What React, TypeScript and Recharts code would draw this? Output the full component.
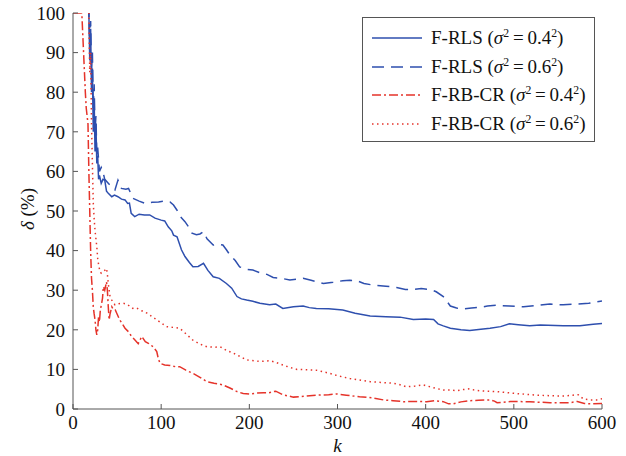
import React from 'react';
import { LineChart, Line, XAxis, YAxis, Legend } from 'recharts';

type P = [number, number];

const FONT = "'Liberation Serif', 'DejaVu Serif', serif";
const BLUE = '#2e4fae';
const RED = '#e5332a';
const AXIS = '#555555';

const xTicks = [0, 100, 200, 300, 400, 500, 600];
const yTicks = [0, 10, 20, 30, 40, 50, 60, 70, 80, 90, 100];

// F-RLS (sigma^2 = 0.4^2)
const rls04: P[] = [
  [0, 130], [16, 120], [18, 100], [19, 88], [20, 96], [21, 80], [22, 86], [23, 70], [24, 78], [25, 65],
  [26, 72], [27, 62], [28, 64], [29, 58], [30, 59], [32, 57], [34, 58], [36, 57.8], [38, 55], [40, 54.5],
  [44, 53.6], [47, 54], [51, 53.6], [55, 53], [59, 52.8], [62, 51.9], [64, 52], [66, 49.4], [70, 48.6], [75, 49.2],
  [81, 49], [87, 49], [93, 48.2], [100, 47.7], [104, 47.5], [108, 46], [112, 45], [114, 43.9], [118, 43.5], [123, 40.2],
  [127, 38.5], [132, 37], [136, 35.9], [142, 36], [148, 36.8], [153, 35], [159, 33.4], [166, 33], [174, 31.7], [180, 30.5],
  [186, 28.4], [191, 27.8], [197, 27.5], [204, 27.2], [212, 26.7], [223, 26.3], [230, 26.5], [238, 25.4], [250, 25.8], [261, 26],
  [268, 25.6], [276, 25.4], [290, 25.3], [306, 25], [320, 24.2], [337, 23.5], [355, 23.3], [371, 23.2], [386, 22.6], [400, 22.7],
  [409, 22.6], [414, 21.5], [420, 21], [428, 20.4], [440, 20], [450, 19.8], [460, 20.1], [473, 20.4], [485, 20.8], [495, 21.5],
  [505, 21.3], [518, 21], [530, 21.2], [556, 21], [575, 21], [590, 21.4], [600, 21.6],
];

// F-RLS (sigma^2 = 0.6^2)
const rls06: P[] = [
  [0, 140], [16, 125], [18, 100], [19, 92], [20, 98], [21, 85], [22, 90], [23, 76], [24, 82], [25, 70],
  [26, 74], [27, 64], [28, 66], [30, 60], [32, 61], [34, 59.9], [36, 58], [40, 57], [44, 56], [47.6, 55.3],
  [51, 57.8], [55, 55.7], [60, 55.5], [63, 55.7], [68, 53.2], [75, 52.5], [82, 51.9], [90, 52.2], [97, 52.3], [104, 52.5],
  [110, 52.3], [114, 51.5], [118, 50.2], [122, 48.5], [127, 47.3], [131, 46], [135, 44.4], [140, 44], [144, 44.2], [148, 44.8],
  [152, 43], [159, 41.4], [165, 41.6], [170, 41.4], [174, 40.2], [178, 38.9], [184, 37.5], [189, 35.9], [196, 35.3], [204, 35.1],
  [212, 34.4], [220, 34], [227, 33.2], [236, 33], [246, 32.6], [255, 32.8], [261, 33], [270, 32.5], [284, 31.7], [295, 32],
  [306, 32.4], [314, 32.5], [322, 32.4], [330, 31.7], [340, 31.3], [355, 31], [367, 30.7], [377, 30.2], [386, 30.2], [395, 30.4],
  [405, 30.2], [412, 29.6], [420, 28.4], [424, 27.2], [428, 26], [435, 25.5], [443, 25.3], [452, 25.5], [462, 25.7], [470, 26],
  [480, 26.2], [495, 26], [511, 25.8], [525, 26.1], [541, 26.5], [556, 26.3], [571, 26.5], [585, 26.7], [600, 27.3],
];

// F-RB-CR (sigma^2 = 0.4^2)
const rbcr04: P[] = [
  [0, 100], [10, 100], [11, 95], [12, 90], [13, 85], [14, 80], [15, 76], [16, 74], [17, 72], [18, 60],
  [19, 50], [20, 40], [21, 33], [22, 30], [23, 25.8], [24, 24], [25, 22.5], [26, 20], [27, 18.7], [28, 20],
  [29, 23.3], [30, 22], [31, 25], [32.5, 26.7], [33.5, 28], [34.4, 30.9], [36, 30], [38, 32.1], [39, 30], [40, 25.8],
  [41, 22.5], [42, 24], [44, 25.8], [46, 25], [48, 25], [50, 24], [53, 22.5], [56, 21.5], [59, 20.4], [63, 19.5],
  [66.5, 18.3], [70, 17.5], [74, 16.5], [78, 18.3], [82, 17], [86, 16.5], [91, 15.7], [95, 14.5], [97, 12.5], [99, 11.5],
  [104, 11.1], [110, 11], [116, 10.7], [121, 10.7], [128, 9.8], [136, 9], [144, 8], [152, 6.9], [160, 6.5], [170, 6.1],
  [178, 5.3], [186, 4.4], [193, 3.9], [200, 3.8], [208, 4], [216, 4.1], [222, 4.1], [230, 4.5], [238, 3.6], [250, 3],
  [262, 3.2], [276, 3.5], [290, 3.6], [299, 3.8], [310, 3.5], [325, 3.1], [340, 2.8], [352, 2.3], [363, 2.1], [375, 1.85],
  [390, 1.9], [401, 1.85], [410, 2.1], [420, 1.85], [426, 1.3], [431, 1.3], [440, 1.8], [450, 2.1], [460, 2.2], [473, 2.3],
  [478, 2], [481, 1.6], [488, 1.7], [496, 1.9], [505, 1.9], [518, 1.8], [530, 1.7], [541, 1.6], [555, 1.6], [564, 1.6],
  [572, 1.9], [580, 1.4], [590, 1.3], [600, 1.4],
];

// F-RB-CR (sigma^2 = 0.6^2)
const rbcr06: P[] = [
  [0, 130], [16, 115], [18, 100], [19, 85], [20, 90], [21, 72], [22, 62], [23, 52], [24, 48], [25, 45],
  [26, 43], [27, 41], [28, 38], [29, 36.5], [30.6, 34.7], [32, 34.3], [34.4, 34.7], [36, 35], [38, 35.5], [39, 34],
  [40, 31.7], [42, 28.4], [44, 27.5], [47.6, 26.3], [52, 26.6], [57, 26.7], [61, 26.5], [68, 25.4], [72, 25.5], [78, 24.8],
  [84, 24.2], [90, 23.3], [95, 22.5], [101, 21.6], [106, 20.8], [114, 20.6], [121, 20.4], [128, 19], [136, 17.4], [144, 16.4],
  [152, 15.7], [160, 15.6], [167, 15.7], [174, 14.8], [182, 14.1], [190, 13.2], [197, 12.4], [205, 12.2], [212, 12], [223, 12.2],
  [230, 11.8], [238, 11.1], [246, 10.5], [254, 10], [265, 9.9], [276, 9.8], [284, 9.4], [291, 9], [302, 8.3], [314, 7.7],
  [325, 7.3], [337, 6.9], [350, 6.7], [363, 6.5], [370, 6.2], [378, 5.6], [388, 5.8], [397, 6.1], [405, 5.6], [412, 5.2],
  [420, 4.8], [428, 4.8], [435, 4.6], [442, 4.9], [450, 5.1], [455, 4.8], [462, 4.6], [470, 4.5], [480, 4.4], [490, 4.2],
  [503, 3.9], [515, 3.7], [526, 3.5], [537, 3.4], [549, 3.3], [558, 3.3], [567, 3.5], [573, 3.6], [579, 2.5], [587, 2.3],
  [594, 2.3], [600, 2.6],
];

const methodNames = ['F-RLS', 'F-RLS', 'F-RB-CR', 'F-RB-CR'];
const sigmaValues = ['0.4', '0.6', '0.4', '0.6'];

const toRows = (pts: P[]) => pts.map(([k, d]) => ({ k, d }));

const SERIES = [
  { key: 'rls04', data: toRows(rls04), color: BLUE, dash: undefined as string | undefined },
  { key: 'rls06', data: toRows(rls06), color: BLUE, dash: '12 7' },
  { key: 'rbcr04', data: toRows(rbcr04), color: RED, dash: '9 3 2 3' },
  { key: 'rbcr06', data: toRows(rbcr06), color: RED, dash: '1.5 3.5' },
];

const supStyle: React.CSSProperties = { fontSize: '0.62em', verticalAlign: 'super', lineHeight: 0 };

const LegendBox = () => (
  <div
    style={{
      width: 233,
      height: 125,
      boxSizing: 'border-box',
      border: `1px solid ${AXIS}`,
      background: '#fff',
      fontFamily: FONT,
      fontSize: 19,
      color: '#111',
      position: 'relative',
    }}
  >
    {SERIES.map((s, i) => (
      <div
        key={s.key}
        style={{ position: 'absolute', left: 0, top: 6 + i * 28.5, height: 28, display: 'flex', alignItems: 'center' }}
      >
        <svg width={68} height={28} style={{ display: 'block' }}>
          <line x1={9} x2={59} y1={14} y2={14} stroke={s.color} strokeWidth={1.6} strokeDasharray={s.dash} />
        </svg>
        <span style={{ whiteSpace: 'nowrap', fontFamily: FONT }}>
          {methodNames[i]} (<i>σ</i>
          <span style={supStyle}>2</span>
          {'\u2009=\u2009'}
          {sigmaValues[i]}
          <span style={supStyle}>2</span>)
        </span>
      </div>
    ))}
  </div>
);

const tickStyle = { fontFamily: FONT, fontSize: 19, fill: '#111' };

export default function App() {
  return (
    <div style={{ position: 'absolute', left: 0, top: 0, width: 626, height: 456, background: '#fff', fontFamily: FONT }}>
      <LineChart width={626} height={456} margin={{ top: 13, right: 24, bottom: 0, left: 0 }} style={{ fontFamily: FONT }}>
        <XAxis
          xAxisId="bottom"
          type="number"
          dataKey="k"
          domain={[0, 600]}
          ticks={xTicks}
          allowDataOverflow
          height={47}
          stroke={AXIS}
          tickSize={-5}
          tickMargin={12}
          tick={tickStyle}
          label={{
            content: ({ viewBox }: any) => (
              <text
                x={viewBox.x + viewBox.width / 2}
                y={viewBox.y + 43}
                textAnchor="middle"
                style={{ fontFamily: FONT, fontSize: 19, fontStyle: 'italic' }}
                fill="#111"
              >
                k
              </text>
            ),
          }}
        />
        <XAxis
          xAxisId="top"
          orientation="top"
          type="number"
          dataKey="k"
          domain={[0, 600]}
          ticks={xTicks}
          height={0}
          stroke={AXIS}
          tickSize={-5}
          tick={false}
        />
        <YAxis
          yAxisId="left"
          type="number"
          domain={[0, 100]}
          ticks={yTicks}
          allowDataOverflow
          width={73}
          stroke={AXIS}
          tickSize={-5}
          tickMargin={13}
          tick={tickStyle}
          label={{
            content: ({ viewBox }: any) => {
              const cx = viewBox.x + 27;
              const cy = viewBox.y + viewBox.height / 2 - 2;
              return (
                <text
                  x={cx}
                  y={cy}
                  textAnchor="middle"
                  dominantBaseline="central"
                  transform={`rotate(-90, ${cx}, ${cy})`}
                  style={{ fontFamily: FONT, fontSize: 19 }}
                  fill="#111"
                >
                  <tspan fontStyle="italic">δ</tspan> (%)
                </text>
              );
            },
          }}
        />
        <YAxis
          yAxisId="right"
          orientation="right"
          type="number"
          domain={[0, 100]}
          ticks={yTicks}
          width={0}
          stroke={AXIS}
          tickSize={-5}
          tick={false}
        />
        {SERIES.map((s) => (
          <Line
            key={s.key}
            xAxisId="bottom"
            yAxisId="left"
            data={s.data}
            dataKey="d"
            type="linear"
            stroke={s.color}
            strokeWidth={1.5}
            strokeDasharray={s.dash}
            dot={false}
            activeDot={false}
            isAnimationActive={false}
          />
        ))}
        <Legend
          layout="vertical"
          align="center"
          verticalAlign="middle"
          content={() => <LegendBox />}
          wrapperStyle={{ left: 362, top: 17, width: 233, height: 125 }}
        />
      </LineChart>
    </div>
  );
}
